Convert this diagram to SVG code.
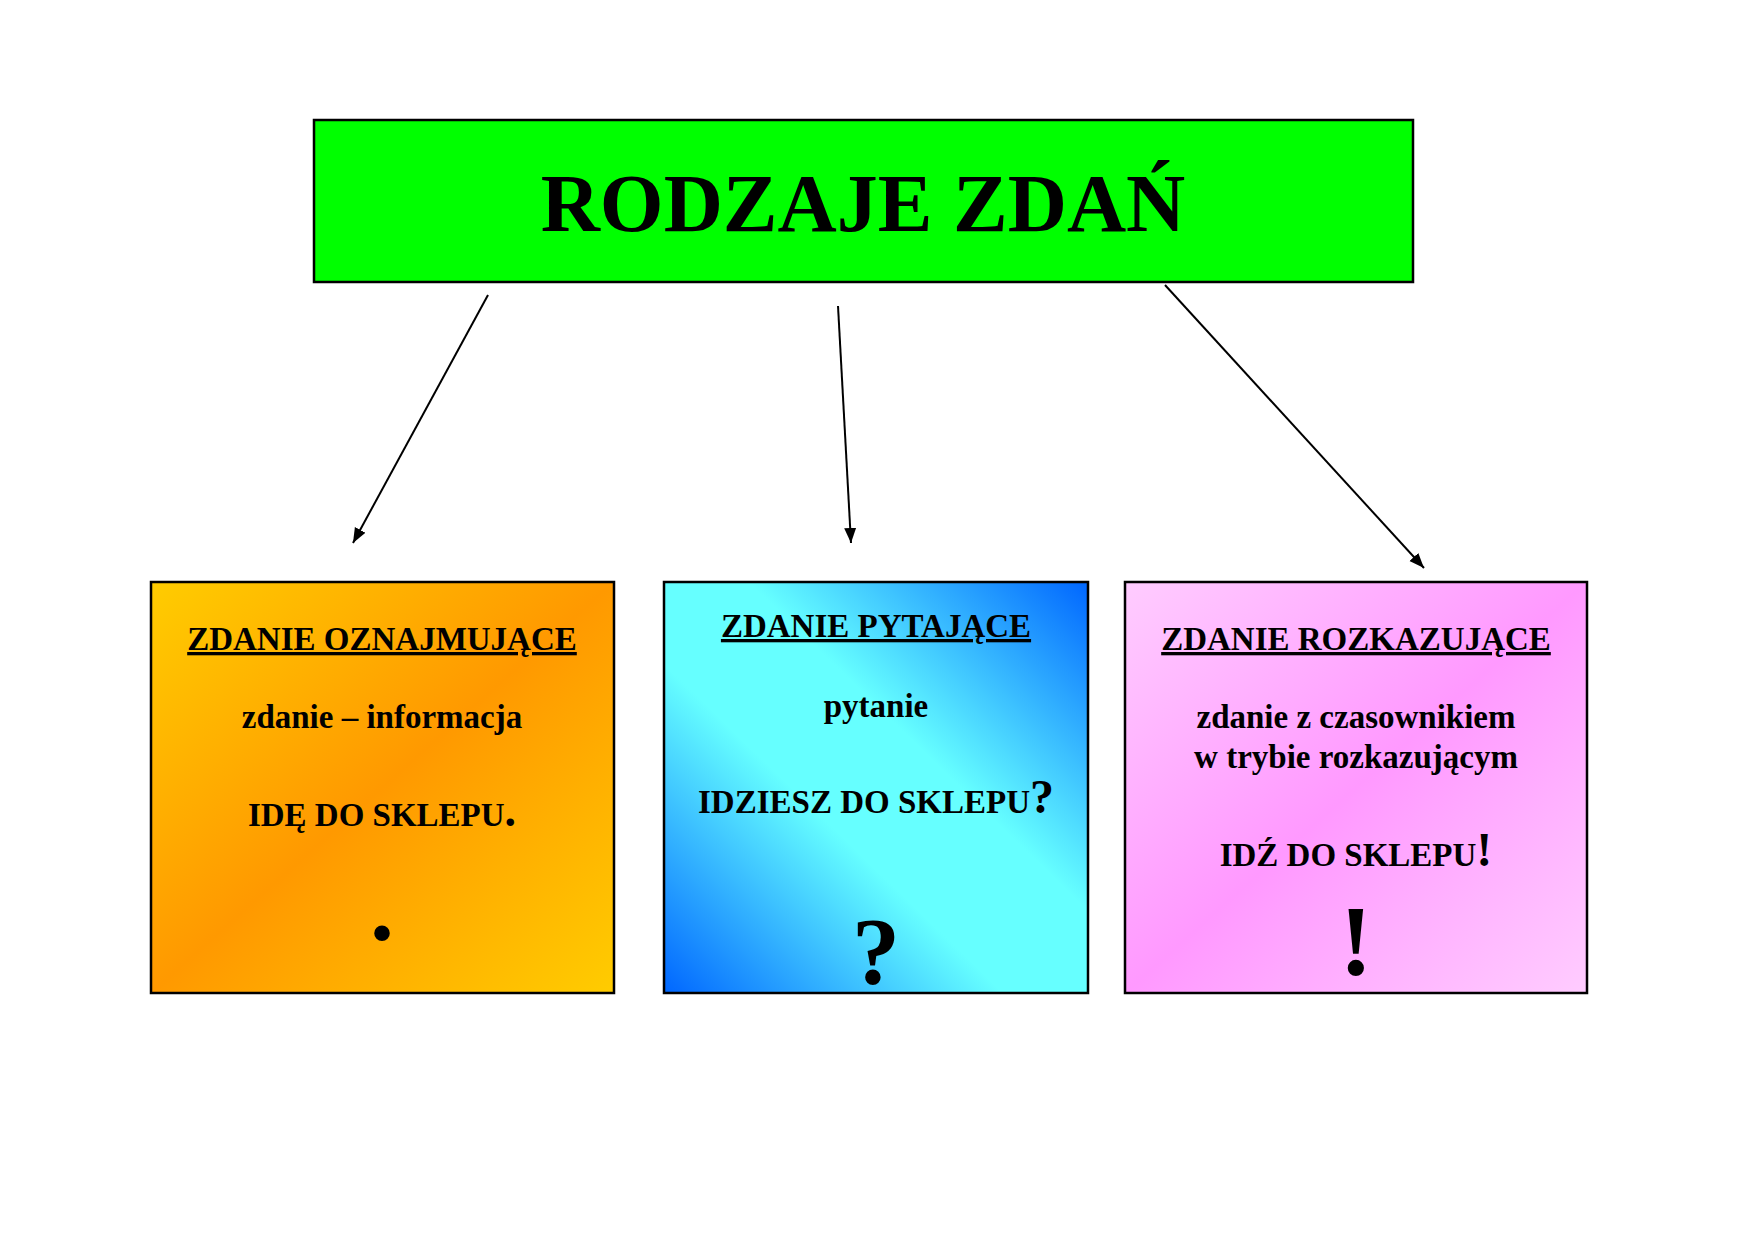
<svg xmlns="http://www.w3.org/2000/svg" width="1754" height="1240" viewBox="0 0 1754 1240">
<style>
text{font-family:"Liberation Serif","Times New Roman",serif;font-weight:bold;fill:#000;text-anchor:middle}
.box{stroke:#000;stroke-width:2.5}
.h{font-size:33px;text-decoration:underline}
.t{font-size:33px}
.conn{stroke:#000;stroke-width:2;fill:none;marker-end:url(#ah)}
</style>
<defs>
<marker id="ah" viewBox="0 0 10 10" refX="10" refY="5" markerWidth="7.5" markerHeight="7.5" orient="auto" markerUnits="strokeWidth"><path d="M0,1 L10,5 L0,9 z" fill="#000"/></marker>
<linearGradient id="gOr" x1="0" y1="0" x2="1" y2="1"><stop offset="0" stop-color="#FFCC00"/><stop offset="0.5" stop-color="#FF9900"/><stop offset="1" stop-color="#FFCC00"/></linearGradient>
<linearGradient id="gBl" x1="1" y1="0" x2="0" y2="1"><stop offset="0" stop-color="#0066FF"/><stop offset="0.4" stop-color="#66FFFF"/><stop offset="0.6" stop-color="#66FFFF"/><stop offset="1" stop-color="#0066FF"/></linearGradient>
<linearGradient id="gPk" x1="0" y1="0" x2="1" y2="1"><stop offset="0" stop-color="#FFCCFF"/><stop offset="0.5" stop-color="#FF99FF"/><stop offset="1" stop-color="#FFCCFF"/></linearGradient>
</defs>
<rect width="1754" height="1240" fill="#fff"/>
<g id="title">
<rect class="box" x="314" y="120" width="1099" height="162" fill="#00FF00"/>
<text x="863" y="231" style="font-size:82px">RODZAJE ZDAŃ</text>
</g>
<g id="connectors">
<line class="conn" x1="488" y1="295" x2="353" y2="543"/>
<line class="conn" x1="838" y1="306" x2="851" y2="543"/>
<line class="conn" x1="1165" y1="285" x2="1424" y2="568"/>
</g>
<g id="oznajmujace">
<rect class="box" x="151" y="582" width="463" height="411" fill="url(#gOr)"/>
<text class="h" x="382" y="650">ZDANIE OZNAJMUJĄCE</text>
<text class="t" x="382" y="728">zdanie – informacja</text>
<text class="t" x="382" y="826">IDĘ DO SKLEPU<tspan style="font-size:46px">.</tspan></text>
<text x="382" y="940" style="font-size:96px">.</text>
</g>
<g id="pytajace">
<rect class="box" x="664" y="582" width="424" height="411" fill="url(#gBl)"/>
<text class="h" x="876" y="637">ZDANIE PYTAJĄCE</text>
<text class="t" x="876" y="717">pytanie</text>
<text class="t" x="876" y="813">IDZIESZ DO SKLEPU<tspan style="font-size:48px">?</tspan></text>
<text x="876" y="984" style="font-size:96px">?</text>
</g>
<g id="rozkazujace">
<rect class="box" x="1125" y="582" width="462" height="411" fill="url(#gPk)"/>
<text class="h" x="1356" y="650">ZDANIE ROZKAZUJĄCE</text>
<text class="t" x="1356" y="728">zdanie z czasownikiem</text>
<text class="t" x="1356" y="768">w trybie rozkazującym</text>
<text class="t" x="1356" y="866">IDŹ DO SKLEPU<tspan style="font-size:48px">!</tspan></text>
<text x="1356" y="974" style="font-size:100px">!</text>
</g>
</svg>
